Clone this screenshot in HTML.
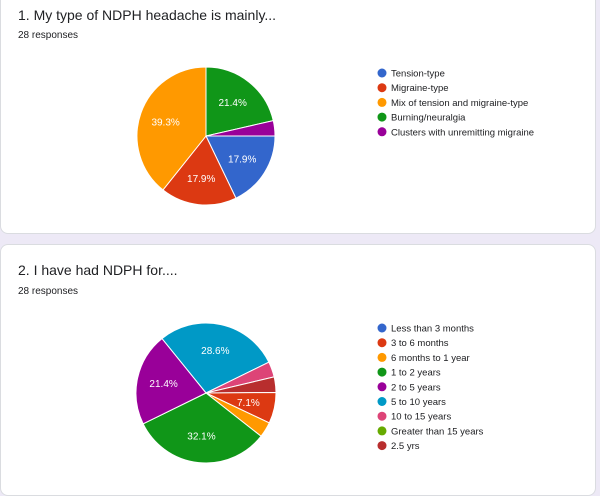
<!DOCTYPE html>
<html><head><meta charset="utf-8"><style>
body{margin:0;width:600px;height:480px;background:#ede9f6;font-family:"Liberation Sans",sans-serif;position:relative;overflow:hidden}
.card{position:absolute;left:0;width:594px;background:#fff;border:1px solid #dadce0;border-radius:8px}
.t{position:absolute;left:18px;font-size:14px;color:#202124}
.r{position:absolute;left:18px;font-size:10px;color:#202124}
svg{position:absolute;left:0;top:0}
</style></head><body>
<div class="card" style="top:-10px;height:242px"></div>
<div class="card" style="top:244px;height:250px"></div>
<div class="t" style="top:7px">1. My type of NDPH headache is mainly...</div>
<div class="r" style="top:30px">28 responses</div>
<div class="t" style="top:262px">2. I have had NDPH for....</div>
<div class="r" style="top:286px">28 responses</div>
<svg id="s" width="600" height="480"></svg>
<script>
const cats1=["Tension-type","Migraine-type","Mix of tension and migraine-type","Burning/neuralgia","Clusters with unremitting migraine"];
const vals1=[5,5,11,6,1];
const order1=[3,4,0,1,2];
const cols1=["#3366cc","#dc3912","#ff9900","#109618","#990099"];
const cats2=["Less than 3 months","3 to 6 months","6 months to 1 year","1 to 2 years","2 to 5 years","5 to 10 years","10 to 15 years","Greater than 15 years","2.5 yrs"];
const vals2=[0,2,1,9,6,8,1,0,1];
const order2=[5,6,8,1,2,3,4];
const cols2=["#3366cc","#dc3912","#ff9900","#109618","#990099","#0099c6","#dd4477","#66aa00","#b82e2e"];
const NS="http://www.w3.org/2000/svg",svg=document.getElementById('s');
function mk(t,a){const e=document.createElementNS(NS,t);for(const k in a)e.setAttribute(k,a[k]);svg.appendChild(e);return e;}
function pie(cx,cy,r,vals,order,cols,start,cats,lx,ly,prefix){
 const tot=vals.reduce((a,b)=>a+b,0);let a=start;
 order.forEach(i=>{const v=vals[i];if(!v)return;const sw=v/tot*2*Math.PI;
  const p=t=>[cx+r*Math.sin(t),cy-r*Math.cos(t)];const [x1,y1]=p(a),[x2,y2]=p(a+sw);
  const e=mk('path',{d:`M${cx},${cy}L${x1},${y1}A${r},${r} 0 ${sw>Math.PI?1:0} 1 ${x2},${y2}Z`,fill:cols[i],stroke:'#fff','stroke-width':1});
  
  
  const pc=v/tot*100;
  if(pc>5){const m=a+sw/2,rr=r*0.62;const tx=mk('text',{x:cx+rr*Math.sin(m),y:cy-rr*Math.cos(m)+3.5,'text-anchor':'middle','font-size':'10',fill:'#fff'});
   tx.textContent=pc.toFixed(1)+'%';
   
   }
  a+=sw;});
 cats.forEach((c,i)=>{const y=ly+i*14.7;
  const d=mk('circle',{cx:lx,cy:y,r:4.5,fill:cols[i]});
  
  
  const t=mk('text',{x:lx+9,y:y+3.5,'font-size':'9.5',fill:'#202124'});t.textContent=c;
  
  });
}
pie(206,136,69,vals1,order1,cols1,0,cats1,382,73,'q1');
pie(206,393,70,vals2,order2,cols2,-39*Math.PI/180,cats2,382,328,'q2');
</script>
</body></html>
